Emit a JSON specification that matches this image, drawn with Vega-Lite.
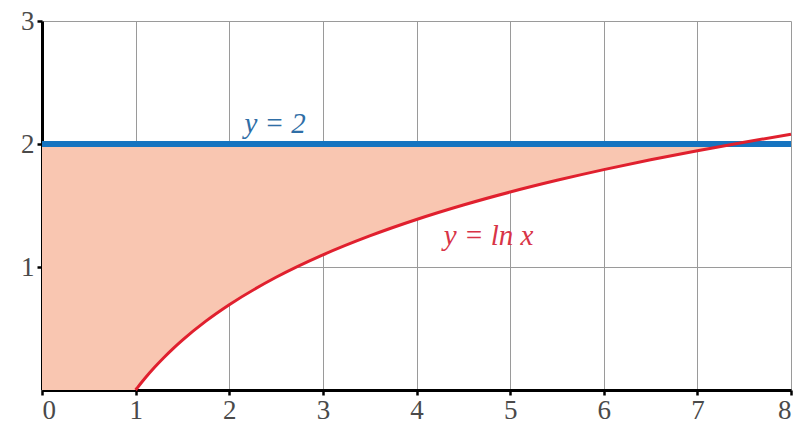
{
  "$schema": "https://vega.github.io/schema/vega-lite/v6.json",
  "width": 749,
  "height": 369,
  "autosize": {"type": "none"},
  "padding": {"left": 42, "top": 21, "right": 18, "bottom": 37},
  "background": "white",
  "config": {
    "view": {"stroke": null},
    "axis": {"labelFont": "Liberation Serif", "labelFontSize": 27, "labelColor": "#4a4a4a", "format": "d", "gridColor": "#9a9a9a", "gridWidth": 1, "gridOpacity": 1, "domainColor": "black", "domainWidth": 3, "tickColor": "black", "tickWidth": 2.5, "tickSize": 5, "title": null}
  },
  "datasets": {
    "area": [
      {"x": 0, "lo": 0, "hi": 2},
      {"x": 1, "lo": 0, "hi": 2},
      {"x": 1.01, "lo": 0.00995, "hi": 2},
      {"x": 1.02, "lo": 0.0198, "hi": 2},
      {"x": 1.05, "lo": 0.0488, "hi": 2},
      {"x": 1.1, "lo": 0.0953, "hi": 2},
      {"x": 1.2, "lo": 0.1823, "hi": 2},
      {"x": 1.3, "lo": 0.2624, "hi": 2},
      {"x": 1.4, "lo": 0.3365, "hi": 2},
      {"x": 1.5, "lo": 0.4055, "hi": 2},
      {"x": 1.75, "lo": 0.5596, "hi": 2},
      {"x": 2, "lo": 0.6931, "hi": 2},
      {"x": 2.5, "lo": 0.9163, "hi": 2},
      {"x": 3, "lo": 1.0986, "hi": 2},
      {"x": 3.5, "lo": 1.2528, "hi": 2},
      {"x": 4, "lo": 1.3863, "hi": 2},
      {"x": 4.5, "lo": 1.5041, "hi": 2},
      {"x": 5, "lo": 1.6094, "hi": 2},
      {"x": 5.5, "lo": 1.7047, "hi": 2},
      {"x": 6, "lo": 1.7918, "hi": 2},
      {"x": 6.5, "lo": 1.8718, "hi": 2},
      {"x": 7, "lo": 1.9459, "hi": 2},
      {"x": 7.389, "lo": 2, "hi": 2}
    ],
    "curve": [
      {"x": 1, "y": 0},
      {"x": 1.01, "y": 0.00995},
      {"x": 1.02, "y": 0.0198},
      {"x": 1.05, "y": 0.0488},
      {"x": 1.1, "y": 0.0953},
      {"x": 1.2, "y": 0.1823},
      {"x": 1.3, "y": 0.2624},
      {"x": 1.4, "y": 0.3365},
      {"x": 1.5, "y": 0.4055},
      {"x": 1.75, "y": 0.5596},
      {"x": 2, "y": 0.6931},
      {"x": 2.5, "y": 0.9163},
      {"x": 3, "y": 1.0986},
      {"x": 3.5, "y": 1.2528},
      {"x": 4, "y": 1.3863},
      {"x": 4.5, "y": 1.5041},
      {"x": 5, "y": 1.6094},
      {"x": 5.5, "y": 1.7047},
      {"x": 6, "y": 1.7918},
      {"x": 6.5, "y": 1.8718},
      {"x": 7, "y": 1.9459},
      {"x": 7.5, "y": 2.0149},
      {"x": 8, "y": 2.0794}
    ],
    "hline": [
      {"x": 0, "y": 2},
      {"x": 8, "y": 2}
    ],
    "labels": [
      {"x": 2.49, "y": 2.16, "text": "y = 2", "series": "const"},
      {"x": 4.77, "y": 1.25, "text": "y = ln x", "series": "ln"}
    ]
  },
  "layer": [
    {
      "data": {"name": "area"},
      "mark": {"type": "area", "color": "#f9c6b1", "opacity": 1},
      "encoding": {
        "x": {"field": "x", "type": "quantitative", "scale": {"domain": [0, 8], "nice": false},
          "axis": {"values": [0, 1, 2, 3, 4, 5, 6, 7, 8], "grid": true, "labelPadding": 2, "zindex": 0}},
        "y": {"field": "lo", "type": "quantitative", "scale": {"domain": [0, 3], "nice": false},
          "axis": {"values": [1, 2, 3], "grid": true, "labelPadding": 3, "zindex": 0}},
        "y2": {"field": "hi"}
      }
    },
    {
      "data": {"name": "hline"},
      "mark": {"type": "line", "color": "#1674c0", "strokeWidth": 6, "strokeCap": "butt"},
      "encoding": {
        "x": {"field": "x", "type": "quantitative"},
        "y": {"field": "y", "type": "quantitative"}
      }
    },
    {
      "data": {"name": "curve"},
      "mark": {"type": "line", "color": "#e0202e", "strokeWidth": 3, "interpolate": "monotone"},
      "encoding": {
        "x": {"field": "x", "type": "quantitative"},
        "y": {"field": "y", "type": "quantitative"}
      }
    },
    {
      "data": {"name": "labels"},
      "mark": {"type": "text", "font": "Liberation Serif", "fontStyle": "italic", "fontSize": 29, "align": "center", "baseline": "middle"},
      "encoding": {
        "x": {"field": "x", "type": "quantitative"},
        "y": {"field": "y", "type": "quantitative"},
        "text": {"field": "text"},
        "color": {"field": "series", "type": "nominal", "scale": {"domain": ["const", "ln"], "range": ["#2f6ea6", "#d83447"]}, "legend": null}
      }
    }
  ]
}
